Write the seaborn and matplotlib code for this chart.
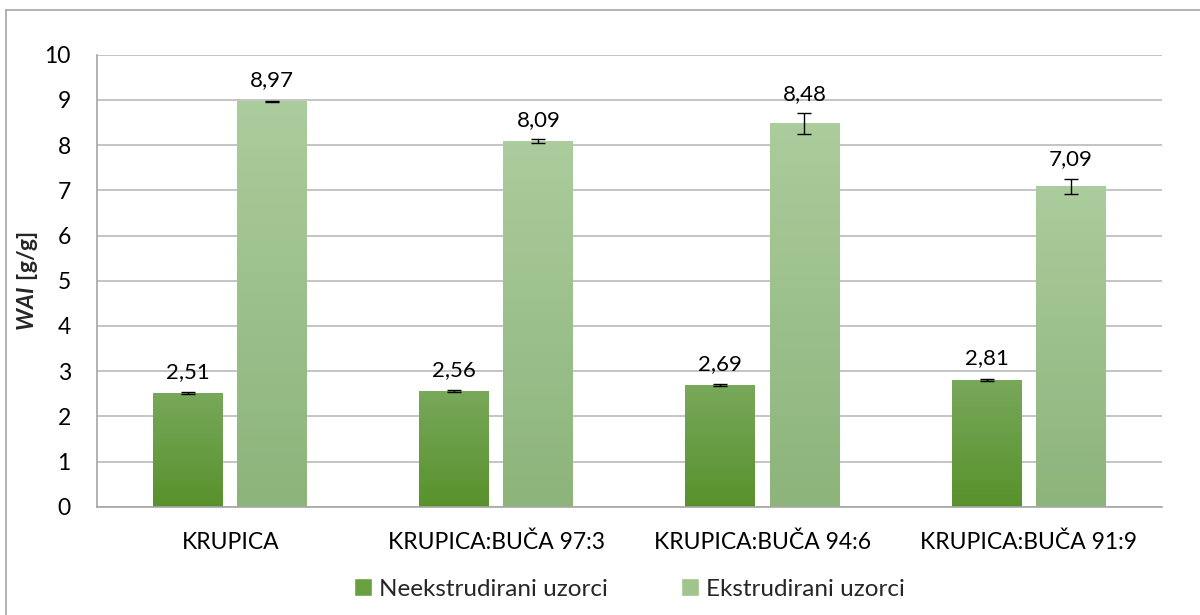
import numpy as np
import pandas as pd
import matplotlib
matplotlib.use("Agg")
import matplotlib.pyplot as plt
import matplotlib.colors as mcolors
import seaborn as sns

# Data
categories = ["KRUPICA", "KRUPICA:BUČA 97:3", "KRUPICA:BUČA 94:6", "KRUPICA:BUČA 91:9"]
series = ["Neekstrudirani uzorci", "Ekstrudirani uzorci"]
neekstrudirani = [2.51, 2.56, 2.69, 2.81]
ekstrudirani = [8.97, 8.09, 8.48, 7.09]
err_neekstrudirani = [0.02, 0.02, 0.02, 0.02]
err_ekstrudirani = [0.01, 0.05, 0.23, 0.17]

df = pd.DataFrame({
    "uzorak": categories * 2,
    "serija": [series[0]] * 4 + [series[1]] * 4,
    "WAI": neekstrudirani + ekstrudirani,
    "err": err_neekstrudirani + err_ekstrudirani,
})

sns.set_theme(style="whitegrid")
plt.rcParams["font.family"] = ["Lato", "DejaVu Sans"]
plt.rcParams["mathtext.fontset"] = "custom"
plt.rcParams["mathtext.bfit"] = "Lato:italic:bold"
plt.rcParams["mathtext.bf"] = "Lato:bold"

colors = {series[0]: "#68a040", series[1]: "#9fc48d"}
grad = {series[0]: ("#78a85a", "#58912c"), series[1]: ("#abcc9c", "#8db47b")}

fig = plt.figure(figsize=(12, 6.15), dpi=100)
ax = fig.add_axes([0.081, 0.176, 0.887, 0.735])

sns.barplot(data=df, x="uzorak", y="WAI", hue="serija", palette=colors,
            width=0.632, gap=0.168, errorbar=None, ax=ax, saturation=1)

# gradient fill, error bars and value labels
for cont, name in zip(ax.containers, series):
    sub = df[df["serija"] == name]
    cmap = mcolors.LinearSegmentedColormap.from_list("g", [grad[name][1], grad[name][0]])
    for bar, val, e in zip(cont, sub["WAI"], sub["err"]):
        x0, w, h = bar.get_x(), bar.get_width(), bar.get_height()
        xc = x0 + w / 2
        bar.set_edgecolor("none")
        img = ax.imshow(np.linspace(0, 1, 100).reshape(-1, 1), cmap=cmap,
                        origin="lower", aspect="auto",
                        extent=[x0, x0 + w, 0, h], zorder=bar.get_zorder() + 0.1)
        img.set_clip_path(bar)
        ax.errorbar(xc, val, yerr=e, fmt="none", ecolor="black", elinewidth=1,
                    capsize=5, capthick=1, zorder=5)
        ax.text(xc, val + max(e, 0.05) + 0.2, f"{val:.2f}".replace(".", ","),
                ha="center", va="bottom", fontsize=16, color="#000000")

ax.set_xlim(-0.5, 3.5)
ax.set_ylim(0, 10)
ax.set_yticks(range(0, 11))
ax.set_xlabel("")
ax.set_ylabel(r"$\mathbfit{WAI}\ \mathbf{[g/g]}$", fontsize=16.5, labelpad=3)
ax.tick_params(axis="both", labelsize=16.5, length=0, colors="#000000")
ax.tick_params(axis="y", pad=19)
ax.tick_params(axis="x", pad=18)
ax.grid(axis="y", color="#bfbfbf", linewidth=1.3)
ax.grid(axis="x", visible=False)
ax.set_axisbelow(True)
for s in ["top", "right"]:
    ax.spines[s].set_visible(False)
for s in ["left", "bottom"]:
    ax.spines[s].set_color("#a6a6a6")
    ax.spines[s].set_linewidth(1.2)
ax.set_facecolor("white")

ax.legend(loc="upper center", bbox_to_anchor=(0.50, -0.11), ncol=2, frameon=False,
          fontsize=17.5, handlelength=0.75, handleheight=0.75, handletextpad=0.3,
          columnspacing=3.0, title=None)

# outer chart border
fig.add_artist(plt.Line2D([6 / 1200, 6 / 1200], [0, 1 - 10 / 615], color="#a6a6a6",
                          linewidth=1.2, transform=fig.transFigure))
fig.add_artist(plt.Line2D([6 / 1200, 1], [1 - 10 / 615, 1 - 10 / 615], color="#a6a6a6",
                          linewidth=1.2, transform=fig.transFigure))

fig.savefig("out.png", dpi=100, facecolor="white")
